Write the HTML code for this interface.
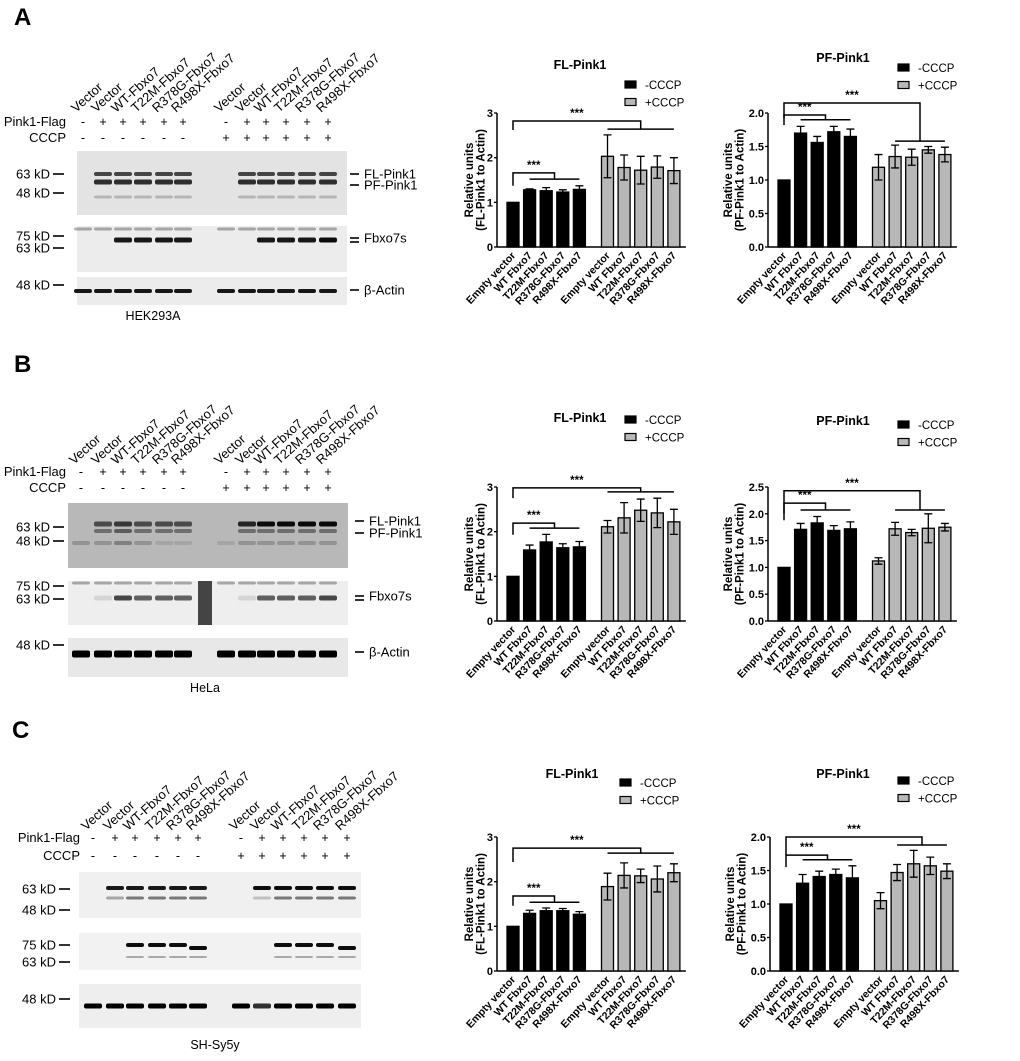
<!DOCTYPE html>
<html><head><meta charset="utf-8">
<style>
html,body{margin:0;padding:0;background:#fff;}
svg{display:block;font-family:"Liberation Sans",Arial,sans-serif;}
</style></head>
<body>
<svg id="fig" width="1020" height="1061" viewBox="0 0 1020 1061" xmlns="http://www.w3.org/2000/svg"></svg>
<script>
// ---------- chart data ----------
const categories = ["Empty vector","WT Fbxo7","T22M-Fbxo7","R378G-Fbxo7","R498X-Fbxo7"];
const seriesNames = ["-CCCP","+CCCP"];
const a1Neg=[1,1.28,1.26,1.23,1.29], a1NegErr=[0,0.02,0.07,0.05,0.08];
const a1Pos=[2.03,1.78,1.72,1.79,1.71], a1PosErr=[0.48,0.28,0.31,0.25,0.29];
const a2Neg=[1,1.70,1.56,1.72,1.65], a2NegErr=[0,0.10,0.09,0.08,0.11];
const a2Pos=[1.19,1.35,1.34,1.45,1.38], a2PosErr=[0.19,0.17,0.12,0.05,0.11];
const b1Neg=[1,1.59,1.77,1.64,1.66], b1NegErr=[0,0.11,0.17,0.09,0.12];
const b1Pos=[2.11,2.31,2.48,2.42,2.22], b1PosErr=[0.14,0.34,0.25,0.33,0.28];
const b2Neg=[1,1.71,1.83,1.69,1.72], b2NegErr=[0,0.11,0.12,0.09,0.13];
const b2Pos=[1.12,1.72,1.65,1.73,1.75], b2PosErr=[0.06,0.12,0.06,0.27,0.07];
const c1Neg=[1,1.29,1.35,1.35,1.27], c1NegErr=[0,0.07,0.06,0.05,0.06];
const c1Pos=[1.89,2.14,2.13,2.06,2.20], c1PosErr=[0.30,0.28,0.15,0.29,0.20];
const c2Neg=[1,1.31,1.41,1.44,1.39], c2NegErr=[0,0.13,0.08,0.08,0.18];
const c2Pos=[1.05,1.47,1.60,1.57,1.49], c2PosErr=[0.12,0.12,0.20,0.13,0.11];
const ticksInt=["0","1","2","3"];
const ticks20=["0.0","0.5","1.0","1.5","2.0"];
const ticks25=["0.0","0.5","1.0","1.5","2.0","2.5"];

const NS="http://www.w3.org/2000/svg";
const svg=document.getElementById('fig');
function el(tag,attrs,parent,text){
  const e=document.createElementNS(NS,tag);
  for(const k in attrs) e.setAttribute(k,attrs[k]);
  if(text!==undefined) e.textContent=text;
  (parent||svg).appendChild(e);
  return e;
}

function chart(o){
  const g=el('g',{});
  
  
  const yS=v=>o.y0-(v/o.max)*(o.y0-o.yTop);
  const xS=i=>o.ax+16+i*16.6+(i>=5?11.5:0);
  const t=el('text',{x:o.tx,y:o.ty,'font-size':12.5,'font-weight':'bold','text-anchor':'middle'},g,o.title);
  
  
  [0,1].forEach(s=>{
    const lg=el('g',{},g);
    
    
    el('rect',{x:o.lx,y:o.ly+s*17.5-4,width:11,height:7,fill:s?'#b8b8b8':'#000',stroke:'#000','stroke-width':1.2},lg);
    el('text',{x:o.lx+20,y:o.ly+s*17.5+4,'font-size':11.5},lg,seriesNames[s]);
  });
  const ya=el('line',{x1:o.ax,y1:o.yTop,x2:o.ax,y2:o.y0,stroke:'#000','stroke-width':1.5},g);
  
  
  const xa=el('line',{x1:o.ax,y1:o.y0,x2:xS(9)+12,y2:o.y0,stroke:'#000','stroke-width':1.5},g);
  
  
  o.ticks.forEach((lab,i)=>{
    const v=i*o.step, y=yS(v);
    el('line',{x1:o.ax-3,y1:y,x2:o.ax,y2:y,stroke:'#000','stroke-width':1.3},g);
    const tl=el('text',{x:o.ax-4,y:y+4,'font-size':11,'font-weight':'bold','text-anchor':'end'},g,lab);
    
    
  });
  const cy=(o.y0+o.yTop)/2;
  const yt=el('text',{transform:`translate(${o.ax+o.yto},${cy}) rotate(-90)`,'font-size':11.5,'font-weight':'bold','text-anchor':'middle'},g);
  
  
  el('tspan',{x:0,y:0},yt,'Relative units');
  el('tspan',{x:0,y:11.5},yt,o.ytitle);
  const vals=o.neg.concat(o.pos), errs=o.negErr.concat(o.posErr);
  vals.forEach((v,i)=>{
    const x=xS(i), y=yS(v);
    const b=el('rect',{x:x-6,y:y,width:12,height:o.y0-y,fill:i<5?'#000':'#b8b8b8',stroke:'#000','stroke-width':1.3},g);
    
    
    if(errs[i]>0){
      const y1=yS(v+errs[i]), y2=yS(v-errs[i]);
      const eb=el('path',{d:`M${x},${y1}V${y2}M${x-4},${y1}H${x+4}M${x-4},${y2}H${x+4}`,stroke:'#000','stroke-width':1.3,fill:'none'},g);
      
      
    }
    const xl=el('text',{transform:`translate(${x+3},${o.y0+9}) rotate(-47)`,'font-size':10.5,'font-weight':'bold','text-anchor':'end'},g,categories[i%5]);
    
    
  });
  o.br.forEach(b=>{
    const top=yS(b.top), line=yS(b.line), lb=yS(b.lb);
    const x0=xS(0), xa1=xS(b.from), xb=xS(b.to), xm=(xa1+xb)/2;
    const p=el('path',{d:`M${x0},${lb}V${top}H${xm}V${line}M${xa1},${line}H${xb}`,stroke:'#000','stroke-width':1.5,fill:'none'},g);
    
    
    const st=el('text',{x:(x0+xm)/2,y:top-4,'font-size':11.5,'font-weight':'bold','text-anchor':'middle'},g,'***');
    
    
  });
}

chart({name:'chart-a-fl-pink1',title:'FL-Pink1',tx:580,ty:69,lx:625,ly:85,ax:497,yto:-24,y0:247,yTop:113,max:3,step:1,ticks:ticksInt,ytitle:'(FL-Pink1 to Actin)',
  neg:a1Neg,negErr:a1NegErr,pos:a1Pos,posErr:a1PosErr,
  br:[{top:2.82,line:2.64,lb:2.62,from:5,to:9},{top:1.66,line:1.52,lb:1.37,from:1,to:4}]});
chart({name:'chart-a-pf-pink1',title:'PF-Pink1',tx:843,ty:62,lx:898,ly:68,ax:768,yto:-36,y0:247,yTop:113,max:2,step:0.5,ticks:ticks20,ytitle:'(PF-Pink1 to Actin)',
  neg:a2Neg,negErr:a2NegErr,pos:a2Pos,posErr:a2PosErr,
  br:[{top:2.15,line:1.58,lb:1.93,from:6,to:9},{top:1.97,line:1.9,lb:1.82,from:1,to:4}]});
chart({name:'chart-b-fl-pink1',title:'FL-Pink1',tx:580,ty:422,lx:625,ly:420,ax:497,yto:-24,y0:621,yTop:487,max:3,step:1,ticks:ticksInt,ytitle:'(FL-Pink1 to Actin)',
  neg:b1Neg,negErr:b1NegErr,pos:b1Pos,posErr:b1PosErr,
  br:[{top:2.98,line:2.89,lb:2.75,from:5,to:9},{top:2.19,line:2.08,lb:1.93,from:1,to:4}]});
chart({name:'chart-b-pf-pink1',title:'PF-Pink1',tx:843,ty:425,lx:898,ly:425,ax:768,yto:-36,y0:621,yTop:487,max:2.5,step:0.5,ticks:ticks25,ytitle:'(PF-Pink1 to Actin)',
  neg:b2Neg,negErr:b2NegErr,pos:b2Pos,posErr:b2PosErr,
  br:[{top:2.43,line:2.07,lb:1.88,from:6,to:9},{top:2.2,line:2.07,lb:2.01,from:1,to:4}]});
chart({name:'chart-c-fl-pink1',title:'FL-Pink1',tx:572,ty:778,lx:620,ly:783,ax:497,yto:-24,y0:971,yTop:837,max:3,step:1,ticks:ticksInt,ytitle:'(FL-Pink1 to Actin)',
  neg:c1Neg,negErr:c1NegErr,pos:c1Pos,posErr:c1PosErr,
  br:[{top:2.75,line:2.64,lb:2.44,from:5,to:9},{top:1.68,line:1.54,lb:1.46,from:1,to:4}]});
chart({name:'chart-c-pf-pink1',title:'PF-Pink1',tx:843,ty:778,lx:898,ly:781,ax:770,yto:-36,y0:971,yTop:837,max:2,step:0.5,ticks:ticks20,ytitle:'(PF-Pink1 to Actin)',
  neg:c2Neg,negErr:c2NegErr,pos:c2Pos,posErr:c2PosErr,
  br:[{top:2.0,line:1.88,lb:1.73,from:6,to:9},{top:1.73,line:1.66,lb:1.55,from:1,to:4}]});

// ---------- western blots ----------
const laneNames=["Vector","Vector","WT-Fbxo7","T22M-Fbxo7","R378G-Fbxo7","R498X-Fbxo7"];
const flagSigns=["-","+","+","+","+","+"];
function blotPanel(p){
  const g=el('g',{});
  
  
  const L=el('text',{x:p.letter[0],y:p.letter[1],'font-size':24,'font-weight':'bold'},g,p.letterText);
  
  
  p.lanes.forEach((x,i)=>{
    const lt=el('text',{transform:`translate(${x-7},${p.labY}) rotate(-42)`,'font-size':13},g,laneNames[i%6]);
    
    
    el('text',{x:x,y:p.flagY,'font-size':12.5,'text-anchor':'middle'},g,flagSigns[i%6]);
    el('text',{x:x,y:p.cccpY,'font-size':12.5,'text-anchor':'middle'},g,i<6?'-':'+');
  });
  el('text',{x:p.rowX,y:p.flagY,'font-size':13,'text-anchor':'end'},g,'Pink1-Flag');
  el('text',{x:p.rowX,y:p.cccpY,'font-size':13,'text-anchor':'end'},g,'CCCP');
  p.blots.forEach(b=>{
    const r=el('rect',{x:b.x,y:b.y,width:b.w,height:b.h,fill:b.bg},g);
    
    
    b.bands.forEach(bd=>{
      p.lanes.forEach((x,i)=>{
        const op=bd.op[i];
        if(op>0) el('rect',{x:x-9,y:bd.y-bd.h/2,width:18,height:bd.h,rx:2,fill:'#000','fill-opacity':op},g);
      });
    });
  });
  p.markers.forEach(m=>{
    el('text',{x:m[0],y:m[1]+4.5,'font-size':13,'text-anchor':'end'},g,m[2]);
    el('line',{x1:m[0]+3,y1:m[1],x2:m[0]+14,y2:m[1],stroke:'#000','stroke-width':1.6},g);
  });
  p.right.forEach(m=>{
    el('text',{x:p.rx+14,y:m[0]+4.5,'font-size':13},g,m[1]);
    el('line',{x1:p.rx,y1:m[0],x2:p.rx+9,y2:m[0],stroke:'#000','stroke-width':1.6},g);
    if(m[2]) el('line',{x1:p.rx,y1:m[0]+4,x2:p.rx+9,y2:m[0]+4,stroke:'#000','stroke-width':1.6},g);
  });
  const cl=el('text',{x:p.cell[0],y:p.cell[1],'font-size':12.5,'text-anchor':'middle'},g,p.cell[2]);
  
  
}
const z=[0,1,1,1,1,1,0,1,1,1,1,1];
blotPanel({name:'blot-panel-a',letterText:'A',letter:[14,25],lanes:[83,103,123,143,164,183,226,247,266,286,307,328],labY:113,flagY:126,cccpY:142,rowX:66,
  blots:[
   {x:77,y:151,w:270,h:64,bg:'#e3e3e3',bands:[{y:174,h:4,op:z.map(v=>v*0.7)},{y:182,h:5,op:z.map(v=>v*0.8)},{y:197,h:3,op:z.map(v=>v*0.2)}]},
   {x:77,y:226,w:270,h:46,bg:'#ececec',bands:[{y:229,h:3,op:[.3,.3,.3,.3,.3,.3,.3,.3,.3,.3,.3,.3]},{y:240,h:5,op:[0,0,.9,.9,.9,.9,0,0,.9,.9,.9,.95]}]},
   {x:77,y:277,w:270,h:28,bg:'#ececec',bands:[{y:291,h:4,op:[.9,.9,.9,.9,.9,.9,.9,.9,.9,.9,.9,.9]}]}],
  markers:[[50,174,'63 kD'],[50,193,'48 kD'],[50,236,'75 kD'],[50,248,'63 kD'],[50,285,'48 kD']],
  rx:350,right:[[174,'FL-Pink1'],[185,'PF-Pink1'],[238,'Fbxo7s',true],[290,'β-Actin']],cell:[153,320,'HEK293A']});
blotPanel({name:'blot-panel-b',letterText:'B',letter:[14,372],lanes:[81,103,123,143,164,183,226,247,266,286,307,328],labY:465,flagY:476,cccpY:492,rowX:66,
  blots:[
   {x:68,y:503,w:280,h:65,bg:'#b8b8b8',bands:[{y:524,h:5,op:[0,.6,.7,.6,.6,.6,0,.8,.95,.95,.95,.95]},{y:531,h:4,op:[0,.4,.5,.4,.4,.4,0,.4,.4,.4,.4,.4]},{y:543,h:4,op:[.2,.2,.3,.2,.1,.1,.1,.2,.2,.2,.2,.2]}]},
   {x:68,y:581,w:280,h:44,bg:'#eeeeee',bands:[{y:583,h:3,op:[.3,.3,.3,.3,.3,.3,.3,.3,.3,.3,.3,.3]},{y:598,h:5,op:[0,.1,.7,.6,.6,.6,0,.1,.6,.6,.6,.7]}]},
   {x:68,y:638,w:280,h:39,bg:'#e8e8e8',bands:[{y:654,h:7,op:[1,1,1,1,1,1,1,1,1,1,1,1]}]}],
  markers:[[50,527,'63 kD'],[50,541,'48 kD'],[50,586,'75 kD'],[50,599,'63 kD'],[50,645,'48 kD']],
  rx:355,right:[[521,'FL-Pink1'],[533,'PF-Pink1'],[596,'Fbxo7s',true],[652,'β-Actin']],cell:[205,692,'HeLa']});
el('rect',{x:198,y:581,width:14,height:44,fill:'#444'});
blotPanel({name:'blot-panel-c',letterText:'C',letter:[12,738],lanes:[93,115,135,157,178,198,241,262,283,304,325,347],labY:831,flagY:842,cccpY:860,rowX:80,
  blots:[
   {x:79,y:872,w:282,h:46,bg:'#f0f0f0',bands:[{y:888,h:4,op:[0,.9,.9,.9,.9,.9,0,.95,.95,.95,.95,.95]},{y:898,h:3,op:[0,.3,.5,.5,.5,.5,0,.2,.5,.5,.5,.5]}]},
   {x:79,y:933,w:282,h:37,bg:'#f2f2f2',bands:[{y:945,h:4,op:[0,0,.95,.95,.95,0,0,0,.95,.95,.95,0]},{y:948,h:4,op:[0,0,0,0,0,.95,0,0,0,0,0,.95]},{y:957,h:2,op:[0,0,.3,.3,.3,.3,0,0,.3,.3,.3,.3]}]},
   {x:79,y:984,w:282,h:44,bg:'#eeeeee',bands:[{y:1006,h:5,op:[1,1,1,1,1,1,1,.8,1,1,1,1]}]}],
  markers:[[56,889,'63 kD'],[56,910,'48 kD'],[56,945,'75 kD'],[56,962,'63 kD'],[56,999,'48 kD']],
  rx:2000,right:[],cell:[215,1049,'SH-Sy5y']});
</script>
</body></html>
